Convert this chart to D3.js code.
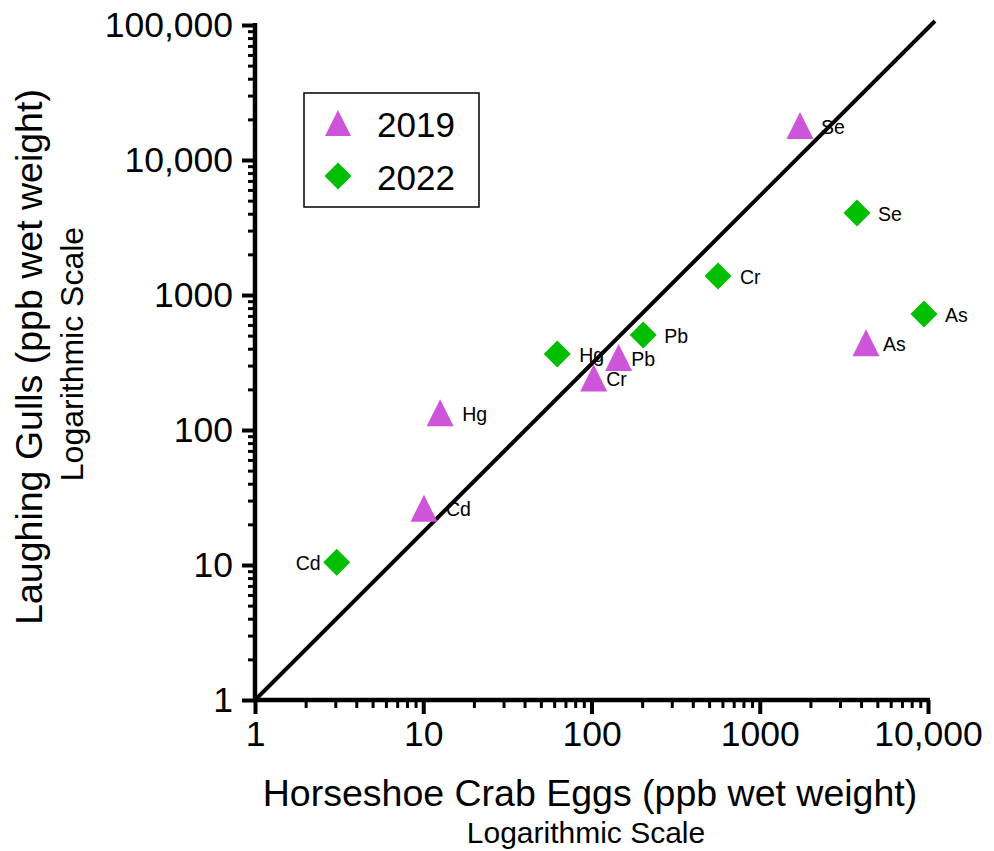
<!DOCTYPE html>
<html>
<head>
<meta charset="utf-8">
<script src="https://cdn.jsdelivr.net/npm/d3@7"></script>
<style>
  html, body { margin: 0; padding: 0; background: #fff; }
  svg { display: block; font-family: "Liberation Sans", Arial, sans-serif; }
</style>
</head>
<body>
<svg id="chart" width="994" height="851"></svg>
<script>
// ---------- data ----------
const metals2019 = ["Se", "As", "Pb", "Cr", "Hg", "Cd"];
const crab2019   = [1735, 4280, 145, 103, 12.6, 10.1];
const gull2019   = [18000, 443, 344, 243, 134, 26.3];

const metals2022 = ["Se", "As", "Cr", "Pb", "Hg", "Cd"];
const crab2022   = [3785, 9470, 565, 203, 62.6, 3.06];
const gull2022   = [4050, 723, 1383, 505, 366, 10.5];

const xTickValues = [1, 10, 100, 1000, 10000];
const xTickLabels = ["1", "10", "100", "1000", "10,000"];
const yTickValues = [1, 10, 100, 1000, 10000, 100000];
const yTickLabels = ["1", "10", "100", "1000", "10,000", "100,000"];

const fitLineX = [1, 11000];
const fitLineY = [1, 107000];

const seriesNames = ["2019", "2022"];

// label placement (styling, not data)
const labelDx2019 = { Se: 21, As: 17, Pb: 12.5, Cr: 12.5, Hg: 22, Cd: 22 };
const labelDx2022 = { Se: 21, As: 21, Cr: 22, Pb: 21, Hg: 22, Cd: -16 };

// ---------- layout ----------
const svg = d3.select("#chart");
const x = d3.scaleLog().domain([1, 10000]).range([255, 928]);
const y = d3.scaleLog().domain([1, 100000]).range([700, 25]);

const COL2019 = "#CD55D9";
const COL2022 = "#00BF00";
const FONT = "'Liberation Sans', Arial, sans-serif";

function triPath(s) {
  const h = s / 2;
  return `M0,${-h}L${h},${h}L${-h},${h}Z`;
}
function diaPath(s) {
  const h = s / 2;
  return `M0,${-h}L${h},0L0,${h}L${-h},0Z`;
}

// ---------- fit line ----------
svg.append("line")
  .attr("x1", x(fitLineX[0])).attr("y1", y(fitLineY[0]))
  .attr("x2", x(fitLineX[1])).attr("y2", y(fitLineY[1]))
  .attr("stroke", "#000").attr("stroke-width", 4).attr("stroke-linecap", "butt");

// ---------- axes ----------
function minorTicks(domainMax) {
  const out = [];
  for (let d = 1; d < domainMax; d *= 10) {
    for (let k = 2; k <= 9; k++) out.push(d * k);
  }
  return out;
}

// Y axis
const yAxisMajor = d3.axisLeft(y).tickValues(yTickValues).tickSize(13)
  .tickFormat((d, i) => yTickLabels[i]).tickPadding(9);
const gy = svg.append("g").attr("transform", "translate(255,0)").call(yAxisMajor);
gy.select(".domain").remove();
gy.selectAll(".tick line").attr("stroke", "#000").attr("stroke-width", 4);
gy.selectAll(".tick text").attr("font-size", 35.5).attr("fill", "#000")
  .attr("font-family", FONT);

const yAxisMinor = d3.axisLeft(y).tickValues(minorTicks(100000)).tickSize(7).tickFormat("");
const gym = svg.append("g").attr("transform", "translate(255,0)").call(yAxisMinor);
gym.select(".domain").remove();
gym.selectAll(".tick line").attr("stroke", "#000").attr("stroke-width", 3);

svg.append("line").attr("x1", 255).attr("x2", 255)
  .attr("y1", y(100000) - 2).attr("y2", y(1) + 2)
  .attr("stroke", "#000").attr("stroke-width", 4.5);

// X axis
const xAxisMajor = d3.axisBottom(x).tickValues(xTickValues).tickSize(14)
  .tickFormat((d, i) => xTickLabels[i]).tickPadding(7);
const gx = svg.append("g").attr("transform", "translate(0,700)").call(xAxisMajor);
gx.select(".domain").remove();
gx.selectAll(".tick line").attr("stroke", "#000").attr("stroke-width", 4);
gx.selectAll(".tick text").attr("font-size", 35.5).attr("fill", "#000")
  .attr("font-family", FONT);

const xAxisMinor = d3.axisBottom(x).tickValues(minorTicks(10000)).tickSize(8).tickFormat("");
const gxm = svg.append("g").attr("transform", "translate(0,700)").call(xAxisMinor);
gxm.select(".domain").remove();
gxm.selectAll(".tick line").attr("stroke", "#000").attr("stroke-width", 3);

svg.append("line").attr("x1", x(1) - 2).attr("x2", x(10000) + 2)
  .attr("y1", 700).attr("y2", 700)
  .attr("stroke", "#000").attr("stroke-width", 4.5);

// ---------- axis titles ----------
svg.append("text").attr("x", 590).attr("y", 806).attr("text-anchor", "middle")
  .attr("font-size", 37.5).text("Horseshoe Crab Eggs (ppb wet weight)");
svg.append("text").attr("x", 586).attr("y", 843).attr("text-anchor", "middle")
  .attr("font-size", 30).text("Logarithmic Scale");

svg.append("text").attr("transform", "translate(42,357) rotate(-90)")
  .attr("text-anchor", "middle").attr("font-size", 37.5)
  .text("Laughing Gulls (ppb wet weight)");
svg.append("text").attr("transform", "translate(83,354) rotate(-90)")
  .attr("text-anchor", "middle").attr("font-size", 32)
  .text("Logarithmic Scale");

// ---------- points ----------
const pts2019 = metals2019.map((m, i) => ({ m, cx: crab2019[i], gy: gull2019[i] }));
const pts2022 = metals2022.map((m, i) => ({ m, cx: crab2022[i], gy: gull2022[i] }));

const g19 = svg.append("g");
g19.selectAll("path").data(pts2019).join("path")
  .attr("transform", d => `translate(${x(d.cx)},${y(d.gy)})`)
  .attr("d", triPath(27)).attr("fill", COL2019);
g19.selectAll("text").data(pts2019).join("text")
  .attr("x", d => x(d.cx) + labelDx2019[d.m])
  .attr("y", d => y(d.gy) + 1)
  .attr("dominant-baseline", "central")
  .attr("font-size", 19.5).text(d => d.m);

const g22 = svg.append("g");
g22.selectAll("path").data(pts2022).join("path")
  .attr("transform", d => `translate(${x(d.cx)},${y(d.gy)})`)
  .attr("d", diaPath(27)).attr("fill", COL2022);
g22.selectAll("text").data(pts2022).join("text")
  .attr("x", d => x(d.cx) + labelDx2022[d.m])
  .attr("y", d => y(d.gy) + 1)
  .attr("dominant-baseline", "central")
  .attr("text-anchor", d => labelDx2022[d.m] < 0 ? "end" : "start")
  .attr("font-size", 19.5).text(d => d.m);

// ---------- legend ----------
const lg = svg.append("g");
lg.append("rect").attr("x", 304).attr("y", 93).attr("width", 175).attr("height", 114)
  .attr("fill", "#fff").attr("stroke", "#000").attr("stroke-width", 1.5);
const legendItems = [
  { name: seriesNames[0], shape: triPath(26), color: COL2019, cy: 123 },
  { name: seriesNames[1], shape: diaPath(27), color: COL2022, cy: 176 }
];
legendItems.forEach(it => {
  lg.append("path").attr("transform", `translate(338,${it.cy})`)
    .attr("d", it.shape).attr("fill", it.color);
  lg.append("text").attr("x", 377).attr("y", it.cy + 1)
    .attr("dominant-baseline", "central").attr("font-size", 35).text(it.name);
});
</script>
</body>
</html>
